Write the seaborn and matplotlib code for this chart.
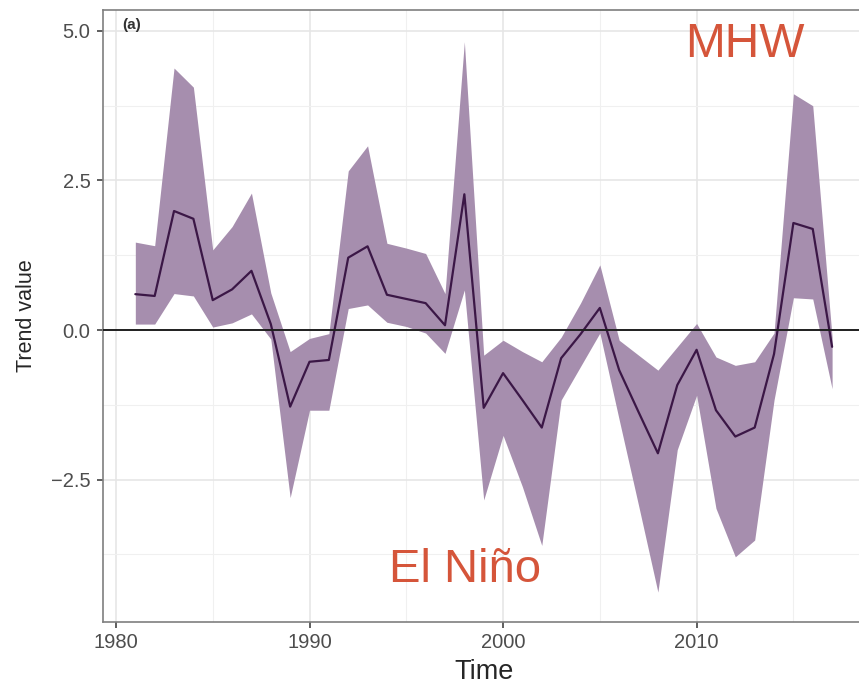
import numpy as np
import pandas as pd
import matplotlib
matplotlib.use("Agg")
import matplotlib.pyplot as plt
import seaborn as sns
from matplotlib.ticker import MultipleLocator

years = list(range(1981, 2018))
trend = [0.60, 0.57, 1.99, 1.86, 0.50, 0.68, 0.99, 0.10, -1.28, -0.53,
         -0.50, 1.21, 1.40, 0.59, 0.52, 0.45, 0.08, 2.27, -1.30, -0.72,
         -1.17, -1.63, -0.47, -0.07, 0.37, -0.67, -1.37, -2.06, -0.92, -0.33,
         -1.34, -1.78, -1.63, -0.40, 1.79, 1.69, -0.28]
upper = [1.47, 1.41, 4.38, 4.06, 1.34, 1.73, 2.29, 0.62, -0.36, -0.14,
         -0.06, 2.66, 3.08, 1.45, 1.37, 1.28, 0.61, 4.82, -0.42, -0.17,
         -0.36, -0.53, -0.12, 0.45, 1.09, -0.17, -0.42, -0.67, -0.28, 0.11,
         -0.45, -0.59, -0.53, -0.05, 3.95, 3.75, -0.12]
lower = [0.10, 0.10, 0.61, 0.57, 0.05, 0.12, 0.27, -0.15, -2.80, -1.34,
         -1.34, 0.36, 0.42, 0.13, 0.06, -0.05, -0.39, 0.67, -2.84, -1.76,
         -2.62, -3.60, -1.17, -0.61, -0.05, -1.50, -2.93, -4.38, -2.00, -1.09,
         -2.98, -3.79, -3.51, -1.17, 0.54, 0.52, -0.98]
ytick_vals = [-2.5, 0.0, 2.5, 5.0]
ytick_text = ["\u22122.5", "0.0", "2.5", "5.0"]

df = pd.DataFrame({"Time": years, "Trend value": trend, "upper": upper, "lower": lower})

sns.set_theme(style="whitegrid")
plt.rcParams['font.family'] = ['Liberation Sans', 'DejaVu Sans']

fig = plt.figure(figsize=(8.59, 6.88), dpi=100)
ax = fig.add_axes([103 / 859, 1 - 622 / 688, 762 / 859, 612 / 688])

# ribbon + mean line
ax.fill_between(df["Time"], df["lower"], df["upper"], color="#A68EAE", linewidth=0, zorder=2)
sns.lineplot(data=df, x="Time", y="Trend value", color="#3B1746", linewidth=1.6, ax=ax, zorder=3)
ax.axhline(0, color="#1f1f1f", linewidth=1.4, zorder=4)

ax.set_xlim(1979.33, 2018.7)
ax.set_ylim(-4.88, 5.35)
ax.xaxis.set_major_locator(MultipleLocator(10))
ax.xaxis.set_minor_locator(MultipleLocator(5))
ax.yaxis.set_minor_locator(MultipleLocator(1.25))
ax.set_yticks(ytick_vals)
ax.set_yticklabels(ytick_text)

ax.set_facecolor("white")
ax.grid(which="major", color="#E6E6E6", linewidth=1.2, zorder=0)
ax.grid(which="minor", color="#F0F0F0", linewidth=0.8, zorder=0)
ax.set_axisbelow(True)
for s in ax.spines.values():
    s.set_color("#7F7F7F")
    s.set_linewidth(1.2)

ax.tick_params(axis="both", which="major", direction="out", length=4, width=1.1,
               color="#333333", labelcolor="#4D4D4D", labelsize=14.5)
ax.tick_params(axis="x", pad=4)
ax.tick_params(axis="y", pad=5)
ax.tick_params(which="minor", length=0)
ax.tick_params(axis="x", bottom=True)
ax.tick_params(axis="y", left=True)

ax.set_xlabel("Time", fontsize=19.5, labelpad=5)
ax.set_ylabel("Trend value", fontsize=15.5, labelpad=10)

ax.text(1980.3, 5.22, "(a)", fontsize=11, fontweight="bold", color="#333333", va="top", ha="left")
ax.text(2009.4, 4.57, "MHW", fontsize=34.5, color="#D5553A", va="baseline", ha="left")
ax.text(1994.1, -4.21, "El Niño", fontsize=34, color="#D5553A", va="baseline", ha="left")

fig.savefig("out.png", dpi=100)
